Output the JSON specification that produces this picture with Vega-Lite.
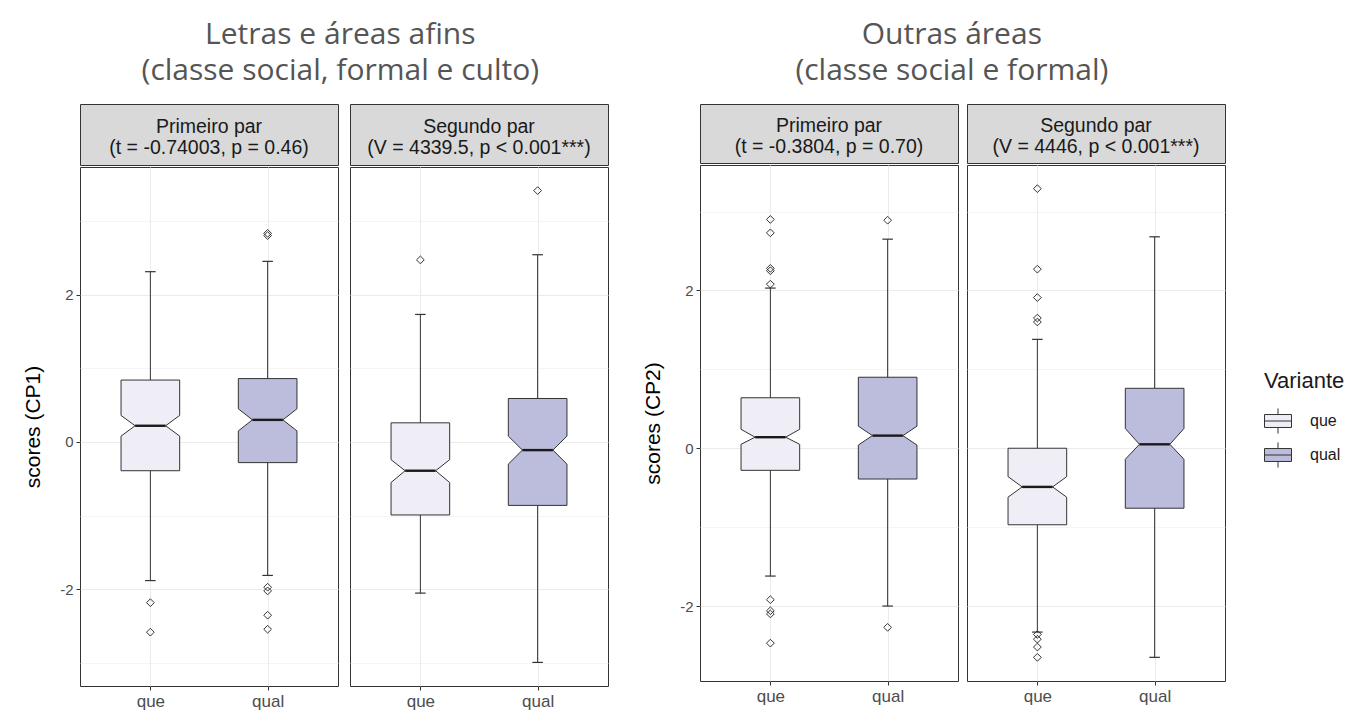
{
  "$schema": "https://vega.github.io/schema/vega-lite/v6.json",
  "background": "white",
  "padding": {"left": 22, "top": 19, "right": 5, "bottom": 5},
  "datasets": {
    "boxes": [
      {"grupo": "L", "par": "P1", "Variante": "que", "wlo": -1.88, "q1": -0.39, "nlo": 0.08, "med": 0.22, "nhi": 0.36, "q3": 0.84, "whi": 2.31},
      {"grupo": "L", "par": "P1", "Variante": "qual", "wlo": -1.81, "q1": -0.28, "nlo": 0.15, "med": 0.30, "nhi": 0.45, "q3": 0.86, "whi": 2.45},
      {"grupo": "L", "par": "P2", "Variante": "que", "wlo": -2.05, "q1": -0.99, "nlo": -0.55, "med": -0.39, "nhi": -0.24, "q3": 0.26, "whi": 1.73},
      {"grupo": "L", "par": "P2", "Variante": "qual", "wlo": -2.99, "q1": -0.86, "nlo": -0.30, "med": -0.11, "nhi": 0.08, "q3": 0.59, "whi": 2.54},
      {"grupo": "R", "par": "P1", "Variante": "que", "wlo": -1.62, "q1": -0.28, "nlo": 0.05, "med": 0.14, "nhi": 0.24, "q3": 0.64, "whi": 2.03},
      {"grupo": "R", "par": "P1", "Variante": "qual", "wlo": -2.0, "q1": -0.39, "nlo": 0.04, "med": 0.16, "nhi": 0.28, "q3": 0.90, "whi": 2.65},
      {"grupo": "R", "par": "P2", "Variante": "que", "wlo": -2.33, "q1": -0.97, "nlo": -0.62, "med": -0.49, "nhi": -0.36, "q3": 0.0, "whi": 1.38},
      {"grupo": "R", "par": "P2", "Variante": "qual", "wlo": -2.65, "q1": -0.76, "nlo": -0.14, "med": 0.05, "nhi": 0.25, "q3": 0.76, "whi": 2.68}
    ],
    "outliers": [
      {"grupo": "L", "par": "P1", "Variante": "que", "score": -2.18},
      {"grupo": "L", "par": "P1", "Variante": "que", "score": -2.58},
      {"grupo": "L", "par": "P1", "Variante": "qual", "score": 2.83},
      {"grupo": "L", "par": "P1", "Variante": "qual", "score": 2.80},
      {"grupo": "L", "par": "P1", "Variante": "qual", "score": -1.97},
      {"grupo": "L", "par": "P1", "Variante": "qual", "score": -2.02},
      {"grupo": "L", "par": "P1", "Variante": "qual", "score": -2.35},
      {"grupo": "L", "par": "P1", "Variante": "qual", "score": -2.54},
      {"grupo": "L", "par": "P2", "Variante": "que", "score": 2.47},
      {"grupo": "L", "par": "P2", "Variante": "qual", "score": 3.41},
      {"grupo": "R", "par": "P1", "Variante": "que", "score": 2.90},
      {"grupo": "R", "par": "P1", "Variante": "que", "score": 2.73},
      {"grupo": "R", "par": "P1", "Variante": "que", "score": 2.28},
      {"grupo": "R", "par": "P1", "Variante": "que", "score": 2.25},
      {"grupo": "R", "par": "P1", "Variante": "que", "score": 2.08},
      {"grupo": "R", "par": "P1", "Variante": "que", "score": -1.92},
      {"grupo": "R", "par": "P1", "Variante": "que", "score": -2.06},
      {"grupo": "R", "par": "P1", "Variante": "que", "score": -2.10},
      {"grupo": "R", "par": "P1", "Variante": "que", "score": -2.47},
      {"grupo": "R", "par": "P1", "Variante": "qual", "score": 2.89},
      {"grupo": "R", "par": "P1", "Variante": "qual", "score": -2.27},
      {"grupo": "R", "par": "P2", "Variante": "que", "score": 3.29},
      {"grupo": "R", "par": "P2", "Variante": "que", "score": 2.27},
      {"grupo": "R", "par": "P2", "Variante": "que", "score": 1.91},
      {"grupo": "R", "par": "P2", "Variante": "que", "score": 1.65},
      {"grupo": "R", "par": "P2", "Variante": "que", "score": 1.60},
      {"grupo": "R", "par": "P2", "Variante": "que", "score": -2.36},
      {"grupo": "R", "par": "P2", "Variante": "que", "score": -2.42},
      {"grupo": "R", "par": "P2", "Variante": "que", "score": -2.52},
      {"grupo": "R", "par": "P2", "Variante": "que", "score": -2.65}
    ]
  },
  "spacing": 33,
  "hconcat": [
    {
      "title": {"text": ["Letras e áreas afins", "(classe social, formal e culto)"], "font": "Open Sans", "fontSize": 30, "fontWeight": "normal", "color": "#555555", "anchor": "middle", "lineHeight": 36, "offset": 18, "dx": 25},
      "spacing": 10,
      "hconcat": [
        {
          "spacing": 0,
          "vconcat": [
            {"width": 258, "height": 61, "view": {"fill": "#d9d9d9", "stroke": "#333333"},
             "data": {"values": [{"lab": "Primeiro par\n(t = -0.74003, p = 0.46)"}]},
             "mark": {"type": "text", "lineBreak": "\n", "font": "Liberation Sans", "fontSize": 19.5, "lineHeight": 21, "dy": -8, "color": "#1a1a1a"},
             "encoding": {"text": {"field": "lab", "type": "nominal"}}},
            {"width": 258, "height": 519,
             "resolve": {"axis": {"y": "independent"}},
             "layer": [
               {"data": {"name": "boxes"},
                "transform": [{"filter": "datum.grupo == 'L' && datum.par == 'P1'"}, {"calculate": "datum.Variante == 'que' ? 1 : 2", "as": "pos"}],
                "mark": {"type": "rule", "color": "#333333", "strokeWidth": 1},
                "encoding": {
                  "x": {"field": "pos", "type": "quantitative", "title": null, "scale": {"domain": [0.4, 2.6], "nice": false, "zero": false},
                        "axis": {"values": [1, 2], "labelExpr": "datum.value == 1 ? 'que' : 'qual'", "title": null, "grid": true, "gridColor": "#ebebeb", "domain": false, "ticks": true, "tickColor": "#333333", "tickSize": 4, "labelColor": "#4d4d4d", "labelFontSize": 17, "labelPadding": 3, "labelFont": "Liberation Sans"}},
                  "y": {"field": "wlo", "type": "quantitative", "scale": {"domain": [-3.31, 3.73], "nice": false, "zero": false},
                        "axis": {"values": [-2, 0, 2], "labelExpr": "'' + datum.value", "title": "scores (CP1)", "grid": true, "gridColor": "#ebebeb", "domain": false, "tickColor": "#333333", "tickSize": 4, "labelColor": "#4d4d4d", "labelFontSize": 15, "labelPadding": 3, "labelFont": "Liberation Sans", "titleFont": "Liberation Sans", "titleFontSize": 21, "titleFontWeight": "normal", "titleColor": "#000000", "titlePadding": 16}},
                  "y2": {"field": "whi"}}},
               {"data": {"name": "boxes"},
                "transform": [{"filter": "datum.grupo == 'L' && datum.par == 'P1'"}, {"calculate": "datum.Variante == 'que' ? 1 : 2", "as": "pos"}, {"fold": ["wlo", "whi"], "as": ["k", "v"]}, {"calculate": "datum.pos - 0.045", "as": "cl"}, {"calculate": "datum.pos + 0.045", "as": "cr"}],
                "mark": {"type": "rule", "color": "#333333", "strokeWidth": 1.2},
                "encoding": {
                  "x": {"field": "cl", "type": "quantitative", "title": null, "scale": {"domain": [0.4, 2.6], "nice": false, "zero": false}},
                  "x2": {"field": "cr"},
                  "y": {"field": "v", "type": "quantitative", "scale": {"domain": [-3.31, 3.73], "nice": false, "zero": false}, "axis": null}}},
               {"data": {"name": "boxes"},
                "transform": [{"filter": "datum.grupo == 'L' && datum.par == 'P1'"}, {"calculate": "datum.Variante == 'que' ? 1 : 2", "as": "pos"}, {"fold": ["q1", "nlo", "med", "nhi", "q3"], "as": ["stat", "v"]}, {"calculate": "datum.stat == 'med' ? 0.13 : 0.25", "as": "hw"}, {"calculate": "datum.pos - datum.hw", "as": "xl"}, {"calculate": "datum.pos + datum.hw", "as": "xr"}],
                "mark": {"type": "area", "orient": "horizontal", "stroke": "#333333", "strokeWidth": 1, "opacity": 1},
                "encoding": {
                  "x": {"field": "xl", "type": "quantitative", "title": null, "scale": {"domain": [0.4, 2.6], "nice": false, "zero": false}},
                  "x2": {"field": "xr"},
                  "y": {"field": "v", "type": "quantitative", "scale": {"domain": [-3.31, 3.73], "nice": false, "zero": false}, "axis": null},
                  "fill": {"field": "Variante", "type": "nominal", "scale": {"domain": ["que", "qual"], "range": ["#efedf5", "#bcbddc"]},
                           "legend": {"title": "Variante", "orient": "none", "legendX": 1184, "legendY": 267, "symbolType": "M-1,-0.48H1V0.48H-1Z M-1,0H1 M0,-0.48V-0.93 M0,0.48V0.93", "symbolSize": 729, "symbolStrokeColor": "#333333", "symbolStrokeWidth": 1, "labelFont": "Liberation Sans", "labelFontSize": 16, "labelColor": "#1a1a1a", "labelOffset": 18, "titleFont": "Liberation Sans", "titleFontSize": 22, "titleFontWeight": "normal", "titleColor": "#1a1a1a", "titlePadding": 14, "rowPadding": 4}}}},
               {"data": {"name": "boxes"},
                "transform": [{"filter": "datum.grupo == 'L' && datum.par == 'P1'"}, {"calculate": "datum.Variante == 'que' ? 1 : 2", "as": "pos"}, {"calculate": "datum.pos - 0.13", "as": "ml"}, {"calculate": "datum.pos + 0.13", "as": "mr"}],
                "mark": {"type": "rule", "color": "#1a1a1a", "strokeWidth": 2.4},
                "encoding": {
                  "x": {"field": "ml", "type": "quantitative", "title": null, "scale": {"domain": [0.4, 2.6], "nice": false, "zero": false}},
                  "x2": {"field": "mr"},
                  "y": {"field": "med", "type": "quantitative", "scale": {"domain": [-3.31, 3.73], "nice": false, "zero": false}, "axis": null}}},
               {"data": {"name": "outliers"},
                "transform": [{"filter": "datum.grupo == 'L' && datum.par == 'P1'"}, {"calculate": "datum.Variante == 'que' ? 1 : 2", "as": "pos"}],
                "mark": {"type": "point", "shape": "diamond", "filled": false, "size": 60, "color": "#333333", "strokeWidth": 1, "opacity": 1},
                "encoding": {
                  "x": {"field": "pos", "type": "quantitative", "title": null, "scale": {"domain": [0.4, 2.6], "nice": false, "zero": false}},
                  "y": {"field": "score", "type": "quantitative", "scale": {"domain": [-3.31, 3.73], "nice": false, "zero": false},
                        "axis": {"orient": "right", "values": [-3, -1, 1, 3], "title": null, "grid": true, "gridColor": "#f0f0f0", "gridWidth": 0.7, "domain": false, "ticks": false, "labels": false}}}}
             ]}
          ]
        },
        {
          "spacing": 0,
          "vconcat": [
            {"width": 258, "height": 61, "view": {"fill": "#d9d9d9", "stroke": "#333333"},
             "data": {"values": [{"lab": "Segundo par\n(V = 4339.5, p < 0.001***)"}]},
             "mark": {"type": "text", "lineBreak": "\n", "font": "Liberation Sans", "fontSize": 19.5, "lineHeight": 21, "dy": -8, "color": "#1a1a1a"},
             "encoding": {"text": {"field": "lab", "type": "nominal"}}},
            {"width": 258, "height": 519,
             "resolve": {"axis": {"y": "independent"}},
             "layer": [
               {"data": {"name": "boxes"},
                "transform": [{"filter": "datum.grupo == 'L' && datum.par == 'P2'"}, {"calculate": "datum.Variante == 'que' ? 1 : 2", "as": "pos"}],
                "mark": {"type": "rule", "color": "#333333", "strokeWidth": 1},
                "encoding": {
                  "x": {"field": "pos", "type": "quantitative", "title": null, "scale": {"domain": [0.4, 2.6], "nice": false, "zero": false},
                        "axis": {"values": [1, 2], "labelExpr": "datum.value == 1 ? 'que' : 'qual'", "title": null, "grid": true, "gridColor": "#ebebeb", "domain": false, "ticks": true, "tickColor": "#333333", "tickSize": 4, "labelColor": "#4d4d4d", "labelFontSize": 17, "labelPadding": 3, "labelFont": "Liberation Sans"}},
                  "y": {"field": "wlo", "type": "quantitative", "scale": {"domain": [-3.31, 3.73], "nice": false, "zero": false},
                        "axis": {"values": [-2, 0, 2], "title": null, "grid": true, "gridColor": "#ebebeb", "domain": false, "ticks": false, "labels": false}},
                  "y2": {"field": "whi"}}},
               {"data": {"name": "boxes"},
                "transform": [{"filter": "datum.grupo == 'L' && datum.par == 'P2'"}, {"calculate": "datum.Variante == 'que' ? 1 : 2", "as": "pos"}, {"fold": ["wlo", "whi"], "as": ["k", "v"]}, {"calculate": "datum.pos - 0.045", "as": "cl"}, {"calculate": "datum.pos + 0.045", "as": "cr"}],
                "mark": {"type": "rule", "color": "#333333", "strokeWidth": 1.2},
                "encoding": {
                  "x": {"field": "cl", "type": "quantitative", "title": null, "scale": {"domain": [0.4, 2.6], "nice": false, "zero": false}},
                  "x2": {"field": "cr"},
                  "y": {"field": "v", "type": "quantitative", "scale": {"domain": [-3.31, 3.73], "nice": false, "zero": false}, "axis": null}}},
               {"data": {"name": "boxes"},
                "transform": [{"filter": "datum.grupo == 'L' && datum.par == 'P2'"}, {"calculate": "datum.Variante == 'que' ? 1 : 2", "as": "pos"}, {"fold": ["q1", "nlo", "med", "nhi", "q3"], "as": ["stat", "v"]}, {"calculate": "datum.stat == 'med' ? 0.13 : 0.25", "as": "hw"}, {"calculate": "datum.pos - datum.hw", "as": "xl"}, {"calculate": "datum.pos + datum.hw", "as": "xr"}],
                "mark": {"type": "area", "orient": "horizontal", "stroke": "#333333", "strokeWidth": 1, "opacity": 1},
                "encoding": {
                  "x": {"field": "xl", "type": "quantitative", "title": null, "scale": {"domain": [0.4, 2.6], "nice": false, "zero": false}},
                  "x2": {"field": "xr"},
                  "y": {"field": "v", "type": "quantitative", "scale": {"domain": [-3.31, 3.73], "nice": false, "zero": false}, "axis": null},
                  "fill": {"field": "Variante", "type": "nominal", "scale": {"domain": ["que", "qual"], "range": ["#efedf5", "#bcbddc"]},
                           "legend": {"title": "Variante", "orient": "none", "legendX": 1184, "legendY": 267, "symbolType": "M-1,-0.48H1V0.48H-1Z M-1,0H1 M0,-0.48V-0.93 M0,0.48V0.93", "symbolSize": 729, "symbolStrokeColor": "#333333", "symbolStrokeWidth": 1, "labelFont": "Liberation Sans", "labelFontSize": 16, "labelColor": "#1a1a1a", "labelOffset": 18, "titleFont": "Liberation Sans", "titleFontSize": 22, "titleFontWeight": "normal", "titleColor": "#1a1a1a", "titlePadding": 14, "rowPadding": 4}}}},
               {"data": {"name": "boxes"},
                "transform": [{"filter": "datum.grupo == 'L' && datum.par == 'P2'"}, {"calculate": "datum.Variante == 'que' ? 1 : 2", "as": "pos"}, {"calculate": "datum.pos - 0.13", "as": "ml"}, {"calculate": "datum.pos + 0.13", "as": "mr"}],
                "mark": {"type": "rule", "color": "#1a1a1a", "strokeWidth": 2.4},
                "encoding": {
                  "x": {"field": "ml", "type": "quantitative", "title": null, "scale": {"domain": [0.4, 2.6], "nice": false, "zero": false}},
                  "x2": {"field": "mr"},
                  "y": {"field": "med", "type": "quantitative", "scale": {"domain": [-3.31, 3.73], "nice": false, "zero": false}, "axis": null}}},
               {"data": {"name": "outliers"},
                "transform": [{"filter": "datum.grupo == 'L' && datum.par == 'P2'"}, {"calculate": "datum.Variante == 'que' ? 1 : 2", "as": "pos"}],
                "mark": {"type": "point", "shape": "diamond", "filled": false, "size": 60, "color": "#333333", "strokeWidth": 1, "opacity": 1},
                "encoding": {
                  "x": {"field": "pos", "type": "quantitative", "title": null, "scale": {"domain": [0.4, 2.6], "nice": false, "zero": false}},
                  "y": {"field": "score", "type": "quantitative", "scale": {"domain": [-3.31, 3.73], "nice": false, "zero": false},
                        "axis": {"orient": "right", "values": [-3, -1, 1, 3], "title": null, "grid": true, "gridColor": "#f0f0f0", "gridWidth": 0.7, "domain": false, "ticks": false, "labels": false}}}}
             ]}
          ]
        }
      ]
    },
    {
      "title": {"text": ["Outras áreas", "(classe social e formal)"], "font": "Open Sans", "fontSize": 30, "fontWeight": "normal", "color": "#555555", "anchor": "middle", "lineHeight": 36, "offset": 18, "dx": 18},
      "spacing": 7,
      "hconcat": [
        {
          "spacing": 0,
          "vconcat": [
            {"width": 258, "height": 59, "view": {"fill": "#d9d9d9", "stroke": "#333333"},
             "data": {"values": [{"lab": "Primeiro par\n(t = -0.3804, p = 0.70)"}]},
             "mark": {"type": "text", "lineBreak": "\n", "font": "Liberation Sans", "fontSize": 19.5, "lineHeight": 21, "dy": -8, "color": "#1a1a1a"},
             "encoding": {"text": {"field": "lab", "type": "nominal"}}},
            {"width": 258, "height": 516,
             "resolve": {"axis": {"y": "independent"}},
             "layer": [
               {"data": {"name": "boxes"},
                "transform": [{"filter": "datum.grupo == 'R' && datum.par == 'P1'"}, {"calculate": "datum.Variante == 'que' ? 1 : 2", "as": "pos"}],
                "mark": {"type": "rule", "color": "#333333", "strokeWidth": 1},
                "encoding": {
                  "x": {"field": "pos", "type": "quantitative", "title": null, "scale": {"domain": [0.4, 2.6], "nice": false, "zero": false},
                        "axis": {"values": [1, 2], "labelExpr": "datum.value == 1 ? 'que' : 'qual'", "title": null, "grid": true, "gridColor": "#ebebeb", "domain": false, "ticks": true, "tickColor": "#333333", "tickSize": 4, "labelColor": "#4d4d4d", "labelFontSize": 17, "labelPadding": 3, "labelFont": "Liberation Sans"}},
                  "y": {"field": "wlo", "type": "quantitative", "scale": {"domain": [-2.95, 3.59], "nice": false, "zero": false},
                        "axis": {"values": [-2, 0, 2], "labelExpr": "'' + datum.value", "title": "scores (CP2)", "grid": true, "gridColor": "#ebebeb", "domain": false, "tickColor": "#333333", "tickSize": 4, "labelColor": "#4d4d4d", "labelFontSize": 15, "labelPadding": 3, "labelFont": "Liberation Sans", "titleFont": "Liberation Sans", "titleFontSize": 21, "titleFontWeight": "normal", "titleColor": "#000000", "titlePadding": 16}},
                  "y2": {"field": "whi"}}},
               {"data": {"name": "boxes"},
                "transform": [{"filter": "datum.grupo == 'R' && datum.par == 'P1'"}, {"calculate": "datum.Variante == 'que' ? 1 : 2", "as": "pos"}, {"fold": ["wlo", "whi"], "as": ["k", "v"]}, {"calculate": "datum.pos - 0.045", "as": "cl"}, {"calculate": "datum.pos + 0.045", "as": "cr"}],
                "mark": {"type": "rule", "color": "#333333", "strokeWidth": 1.2},
                "encoding": {
                  "x": {"field": "cl", "type": "quantitative", "title": null, "scale": {"domain": [0.4, 2.6], "nice": false, "zero": false}},
                  "x2": {"field": "cr"},
                  "y": {"field": "v", "type": "quantitative", "scale": {"domain": [-2.95, 3.59], "nice": false, "zero": false}, "axis": null}}},
               {"data": {"name": "boxes"},
                "transform": [{"filter": "datum.grupo == 'R' && datum.par == 'P1'"}, {"calculate": "datum.Variante == 'que' ? 1 : 2", "as": "pos"}, {"fold": ["q1", "nlo", "med", "nhi", "q3"], "as": ["stat", "v"]}, {"calculate": "datum.stat == 'med' ? 0.13 : 0.25", "as": "hw"}, {"calculate": "datum.pos - datum.hw", "as": "xl"}, {"calculate": "datum.pos + datum.hw", "as": "xr"}],
                "mark": {"type": "area", "orient": "horizontal", "stroke": "#333333", "strokeWidth": 1, "opacity": 1},
                "encoding": {
                  "x": {"field": "xl", "type": "quantitative", "title": null, "scale": {"domain": [0.4, 2.6], "nice": false, "zero": false}},
                  "x2": {"field": "xr"},
                  "y": {"field": "v", "type": "quantitative", "scale": {"domain": [-2.95, 3.59], "nice": false, "zero": false}, "axis": null},
                  "fill": {"field": "Variante", "type": "nominal", "scale": {"domain": ["que", "qual"], "range": ["#efedf5", "#bcbddc"]},
                           "legend": {"title": "Variante", "orient": "none", "legendX": 1184, "legendY": 267, "symbolType": "M-1,-0.48H1V0.48H-1Z M-1,0H1 M0,-0.48V-0.93 M0,0.48V0.93", "symbolSize": 729, "symbolStrokeColor": "#333333", "symbolStrokeWidth": 1, "labelFont": "Liberation Sans", "labelFontSize": 16, "labelColor": "#1a1a1a", "labelOffset": 18, "titleFont": "Liberation Sans", "titleFontSize": 22, "titleFontWeight": "normal", "titleColor": "#1a1a1a", "titlePadding": 14, "rowPadding": 4}}}},
               {"data": {"name": "boxes"},
                "transform": [{"filter": "datum.grupo == 'R' && datum.par == 'P1'"}, {"calculate": "datum.Variante == 'que' ? 1 : 2", "as": "pos"}, {"calculate": "datum.pos - 0.13", "as": "ml"}, {"calculate": "datum.pos + 0.13", "as": "mr"}],
                "mark": {"type": "rule", "color": "#1a1a1a", "strokeWidth": 2.4},
                "encoding": {
                  "x": {"field": "ml", "type": "quantitative", "title": null, "scale": {"domain": [0.4, 2.6], "nice": false, "zero": false}},
                  "x2": {"field": "mr"},
                  "y": {"field": "med", "type": "quantitative", "scale": {"domain": [-2.95, 3.59], "nice": false, "zero": false}, "axis": null}}},
               {"data": {"name": "outliers"},
                "transform": [{"filter": "datum.grupo == 'R' && datum.par == 'P1'"}, {"calculate": "datum.Variante == 'que' ? 1 : 2", "as": "pos"}],
                "mark": {"type": "point", "shape": "diamond", "filled": false, "size": 60, "color": "#333333", "strokeWidth": 1, "opacity": 1},
                "encoding": {
                  "x": {"field": "pos", "type": "quantitative", "title": null, "scale": {"domain": [0.4, 2.6], "nice": false, "zero": false}},
                  "y": {"field": "score", "type": "quantitative", "scale": {"domain": [-2.95, 3.59], "nice": false, "zero": false},
                        "axis": {"orient": "right", "values": [-3, -1, 1, 3], "title": null, "grid": true, "gridColor": "#f0f0f0", "gridWidth": 0.7, "domain": false, "ticks": false, "labels": false}}}}
             ]}
          ]
        },
        {
          "spacing": 0,
          "vconcat": [
            {"width": 258, "height": 59, "view": {"fill": "#d9d9d9", "stroke": "#333333"},
             "data": {"values": [{"lab": "Segundo par\n(V = 4446, p < 0.001***)"}]},
             "mark": {"type": "text", "lineBreak": "\n", "font": "Liberation Sans", "fontSize": 19.5, "lineHeight": 21, "dy": -8, "color": "#1a1a1a"},
             "encoding": {"text": {"field": "lab", "type": "nominal"}}},
            {"width": 258, "height": 516,
             "resolve": {"axis": {"y": "independent"}},
             "layer": [
               {"data": {"name": "boxes"},
                "transform": [{"filter": "datum.grupo == 'R' && datum.par == 'P2'"}, {"calculate": "datum.Variante == 'que' ? 1 : 2", "as": "pos"}],
                "mark": {"type": "rule", "color": "#333333", "strokeWidth": 1},
                "encoding": {
                  "x": {"field": "pos", "type": "quantitative", "title": null, "scale": {"domain": [0.4, 2.6], "nice": false, "zero": false},
                        "axis": {"values": [1, 2], "labelExpr": "datum.value == 1 ? 'que' : 'qual'", "title": null, "grid": true, "gridColor": "#ebebeb", "domain": false, "ticks": true, "tickColor": "#333333", "tickSize": 4, "labelColor": "#4d4d4d", "labelFontSize": 17, "labelPadding": 3, "labelFont": "Liberation Sans"}},
                  "y": {"field": "wlo", "type": "quantitative", "scale": {"domain": [-2.95, 3.59], "nice": false, "zero": false},
                        "axis": {"values": [-2, 0, 2], "title": null, "grid": true, "gridColor": "#ebebeb", "domain": false, "ticks": false, "labels": false}},
                  "y2": {"field": "whi"}}},
               {"data": {"name": "boxes"},
                "transform": [{"filter": "datum.grupo == 'R' && datum.par == 'P2'"}, {"calculate": "datum.Variante == 'que' ? 1 : 2", "as": "pos"}, {"fold": ["wlo", "whi"], "as": ["k", "v"]}, {"calculate": "datum.pos - 0.045", "as": "cl"}, {"calculate": "datum.pos + 0.045", "as": "cr"}],
                "mark": {"type": "rule", "color": "#333333", "strokeWidth": 1.2},
                "encoding": {
                  "x": {"field": "cl", "type": "quantitative", "title": null, "scale": {"domain": [0.4, 2.6], "nice": false, "zero": false}},
                  "x2": {"field": "cr"},
                  "y": {"field": "v", "type": "quantitative", "scale": {"domain": [-2.95, 3.59], "nice": false, "zero": false}, "axis": null}}},
               {"data": {"name": "boxes"},
                "transform": [{"filter": "datum.grupo == 'R' && datum.par == 'P2'"}, {"calculate": "datum.Variante == 'que' ? 1 : 2", "as": "pos"}, {"fold": ["q1", "nlo", "med", "nhi", "q3"], "as": ["stat", "v"]}, {"calculate": "datum.stat == 'med' ? 0.13 : 0.25", "as": "hw"}, {"calculate": "datum.pos - datum.hw", "as": "xl"}, {"calculate": "datum.pos + datum.hw", "as": "xr"}],
                "mark": {"type": "area", "orient": "horizontal", "stroke": "#333333", "strokeWidth": 1, "opacity": 1},
                "encoding": {
                  "x": {"field": "xl", "type": "quantitative", "title": null, "scale": {"domain": [0.4, 2.6], "nice": false, "zero": false}},
                  "x2": {"field": "xr"},
                  "y": {"field": "v", "type": "quantitative", "scale": {"domain": [-2.95, 3.59], "nice": false, "zero": false}, "axis": null},
                  "fill": {"field": "Variante", "type": "nominal", "scale": {"domain": ["que", "qual"], "range": ["#efedf5", "#bcbddc"]},
                           "legend": {"title": "Variante", "orient": "none", "legendX": 1184, "legendY": 267, "symbolType": "M-1,-0.48H1V0.48H-1Z M-1,0H1 M0,-0.48V-0.93 M0,0.48V0.93", "symbolSize": 729, "symbolStrokeColor": "#333333", "symbolStrokeWidth": 1, "labelFont": "Liberation Sans", "labelFontSize": 16, "labelColor": "#1a1a1a", "labelOffset": 18, "titleFont": "Liberation Sans", "titleFontSize": 22, "titleFontWeight": "normal", "titleColor": "#1a1a1a", "titlePadding": 14, "rowPadding": 4}}}},
               {"data": {"name": "boxes"},
                "transform": [{"filter": "datum.grupo == 'R' && datum.par == 'P2'"}, {"calculate": "datum.Variante == 'que' ? 1 : 2", "as": "pos"}, {"calculate": "datum.pos - 0.13", "as": "ml"}, {"calculate": "datum.pos + 0.13", "as": "mr"}],
                "mark": {"type": "rule", "color": "#1a1a1a", "strokeWidth": 2.4},
                "encoding": {
                  "x": {"field": "ml", "type": "quantitative", "title": null, "scale": {"domain": [0.4, 2.6], "nice": false, "zero": false}},
                  "x2": {"field": "mr"},
                  "y": {"field": "med", "type": "quantitative", "scale": {"domain": [-2.95, 3.59], "nice": false, "zero": false}, "axis": null}}},
               {"data": {"name": "outliers"},
                "transform": [{"filter": "datum.grupo == 'R' && datum.par == 'P2'"}, {"calculate": "datum.Variante == 'que' ? 1 : 2", "as": "pos"}],
                "mark": {"type": "point", "shape": "diamond", "filled": false, "size": 60, "color": "#333333", "strokeWidth": 1, "opacity": 1},
                "encoding": {
                  "x": {"field": "pos", "type": "quantitative", "title": null, "scale": {"domain": [0.4, 2.6], "nice": false, "zero": false}},
                  "y": {"field": "score", "type": "quantitative", "scale": {"domain": [-2.95, 3.59], "nice": false, "zero": false},
                        "axis": {"orient": "right", "values": [-3, -1, 1, 3], "title": null, "grid": true, "gridColor": "#f0f0f0", "gridWidth": 0.7, "domain": false, "ticks": false, "labels": false}}}}
             ]}
          ]
        }
      ]
    }
  ],
  "config": {
    "view": {"stroke": "#333333", "strokeWidth": 1},
    "font": "Liberation Sans"
  }
}
